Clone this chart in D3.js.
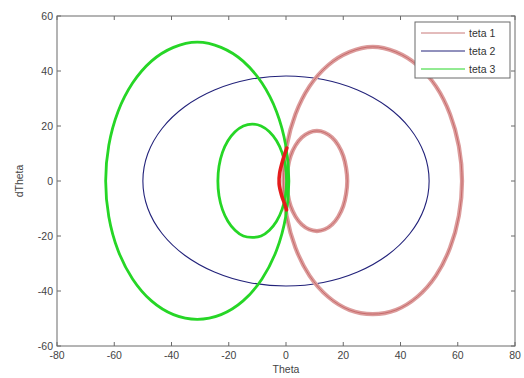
<!DOCTYPE html>
<html><head><meta charset="utf-8">
<script src="https://cdn.jsdelivr.net/npm/d3@7/dist/d3.min.js"></script>
<style>body{margin:0;background:#fff}svg{display:block}text{font-family:Arial,"Liberation Sans",sans-serif}</style>
</head><body><svg id="c" width="524" height="378"></svg>
<script>
// ---- data ----
const xTicks = [-80,-60,-40,-20,0,20,40,60,80];
const yTicks = [-60,-40,-20,0,20,40,60];
const seriesNames = ["teta 1","teta 2","teta 3"];
// teta 1 (red): large loop, small loop, central segment
const teta1Large = [[61.5,0],[60.4,12.6],[57.3,24.3],[52.4,34.4],[45.9,42.1],[38.4,46.9],[30.3,48.8],[22.2,46.9],[14.7,42.1],[8.2,34.4],[3.3,24.3],[0.2,12.6],[-0.9,0],[0.2,-12.6],[3.3,-24.3],[8.2,-34.4],[14.7,-42.1],[22.2,-46.9],[30.3,-48.4],[38.4,-46.9],[45.9,-42.1],[52.4,-34.4],[57.3,-24.3],[60.4,-12.6]];
const teta1Small = [[21.4,0],[21,4.7],[20,9.1],[18.3,12.9],[16.1,15.8],[13.5,17.6],[10.8,18.2],[8.1,17.6],[5.5,15.8],[3.3,12.9],[1.6,9.1],[0.6,4.7],[0.2,0],[0.6,-4.7],[1.6,-9.1],[3.3,-12.9],[5.5,-15.8],[8.1,-17.6],[10.8,-18.2],[13.5,-17.6],[16.1,-15.8],[18.3,-12.9],[20,-9.1],[21,-4.7]];
const teta1Center = [[0.3,12],[-1,8],[-2.2,3],[-2.4,-1],[-1.6,-5],[-0.6,-8],[0.2,-10.5]];
// teta 2 (blue)
const teta2 = [[50,0],[48.3,9.9],[43.3,19.1],[35.4,27],[25,33.1],[13,36.9],[0,38.2],[-13,36.9],[-25,33.1],[-35.4,27],[-43.3,19.1],[-48.3,9.9],[-50,0],[-48.3,-9.9],[-43.3,-19.1],[-35.4,-27],[-25,-33.1],[-13,-36.9],[0,-38.2],[13,-36.9],[25,-33.1],[35.4,-27],[43.3,-19.1],[48.3,-9.9]];
// teta 3 (green): large loop, small loop
const teta3Large = [[1,0],[-0.1,13],[-3.3,25.2],[-8.4,35.6],[-15,43.6],[-22.7,48.6],[-31,50.5],[-39.3,48.6],[-47,43.6],[-53.6,35.6],[-58.7,25.2],[-61.9,13],[-63,0],[-61.9,-13],[-58.7,-25.2],[-53.6,-35.6],[-47,-43.6],[-39.3,-48.6],[-31,-50.3],[-22.7,-48.6],[-15,-43.6],[-8.4,-35.6],[-3.3,-25.2],[-0.1,-13]];
const teta3Small = [[0.2,0],[-0.2,5.4],[-1.4,10.4],[-3.3,14.6],[-5.8,17.9],[-8.7,20],[-11.8,20.7],[-14.9,20],[-17.8,17.9],[-20.3,14.6],[-22.2,10.4],[-23.4,5.4],[-23.8,0],[-23.4,-5.4],[-22.2,-10.4],[-20.3,-14.6],[-17.8,-17.9],[-14.9,-20],[-11.8,-20.5],[-8.7,-20],[-5.8,-17.9],[-3.3,-14.6],[-1.4,-10.4],[-0.2,-5.4]];

// ---- layout ----
const L=57,R=515,T=16,B=346;
const svg=d3.select("#c");
const x=d3.scaleLinear().domain([-80,80]).range([L,R]);
const y=d3.scaleLinear().domain([-60,60]).range([B,T]);
const closed=d3.line().x(d=>x(d[0])).y(d=>y(d[1])).curve(d3.curveCardinalClosed.tension(0));
const open=d3.line().x(d=>x(d[0])).y(d=>y(d[1])).curve(d3.curveCardinal.tension(0));

const g=svg.append("g");
// blue
g.append("path").attr("d",closed(teta2)).attr("fill","none").attr("stroke","#22227a").attr("stroke-width",1.1);
// red
[teta1Large,teta1Small].forEach(d=>{
  g.append("path").attr("d",closed(d)).attr("fill","none").attr("stroke","#dc9c9c").attr("stroke-width",4.2);
  g.append("path").attr("d",closed(d)).attr("fill","none").attr("stroke","#c05a5a").attr("stroke-width",1).attr("stroke-opacity",0.75);
});
// green
[teta3Large,teta3Small].forEach(d=>{
  g.append("path").attr("d",closed(d)).attr("fill","none").attr("stroke","#26d626").attr("stroke-width",2.8);
});
g.append("path").attr("d",open(teta1Center)).attr("fill","none").attr("stroke","#e41c1c").attr("stroke-width",3.6).attr("stroke-linecap","round");

// axes
const ax=svg.append("g").attr("stroke","#6a6a6a").attr("fill","none");
ax.append("rect").attr("x",L).attr("y",T).attr("width",R-L).attr("height",B-T).attr("stroke-width",1);
xTicks.forEach(t=>{
  ax.append("line").attr("x1",x(t)).attr("x2",x(t)).attr("y1",B).attr("y2",B-4);
  ax.append("line").attr("x1",x(t)).attr("x2",x(t)).attr("y1",T).attr("y2",T+4);
});
yTicks.forEach(t=>{
  ax.append("line").attr("y1",y(t)).attr("y2",y(t)).attr("x1",L).attr("x2",L+4);
  ax.append("line").attr("y1",y(t)).attr("y2",y(t)).attr("x1",R).attr("x2",R-4);
});
const tl=svg.append("g").attr("fill","#444").attr("font-size",10.5);
xTicks.forEach(t=>tl.append("text").attr("x",x(t)).attr("y",B+13).attr("text-anchor","middle").text(t));
yTicks.forEach(t=>tl.append("text").attr("x",L-4).attr("y",y(t)+4).attr("text-anchor","end").text(t));
svg.append("text").attr("x",(L+R)/2).attr("y",373).attr("text-anchor","middle").attr("font-size",10.5).attr("fill","#444").text("Theta");
svg.append("text").attr("transform",`translate(23,${(T+B)/2}) rotate(-90)`).attr("text-anchor","middle").attr("font-size",10.5).attr("fill","#444").text("dTheta");

// legend
const lg=svg.append("g");
lg.append("rect").attr("x",415).attr("y",22).attr("width",95).attr("height",56).attr("fill","#fff").attr("stroke","#6a6a6a");
const legColors=["#c87878","#22227a","#26d626"];
seriesNames.forEach((n,i)=>{
  const yy=33+i*18;
  lg.append("line").attr("x1",421).attr("x2",465).attr("y1",yy).attr("y2",yy).attr("stroke",legColors[i]).attr("stroke-width",1);
  lg.append("text").attr("x",469).attr("y",yy+4).attr("font-size",10.5).attr("fill","#333").text(n);
});
</script></body></html>
